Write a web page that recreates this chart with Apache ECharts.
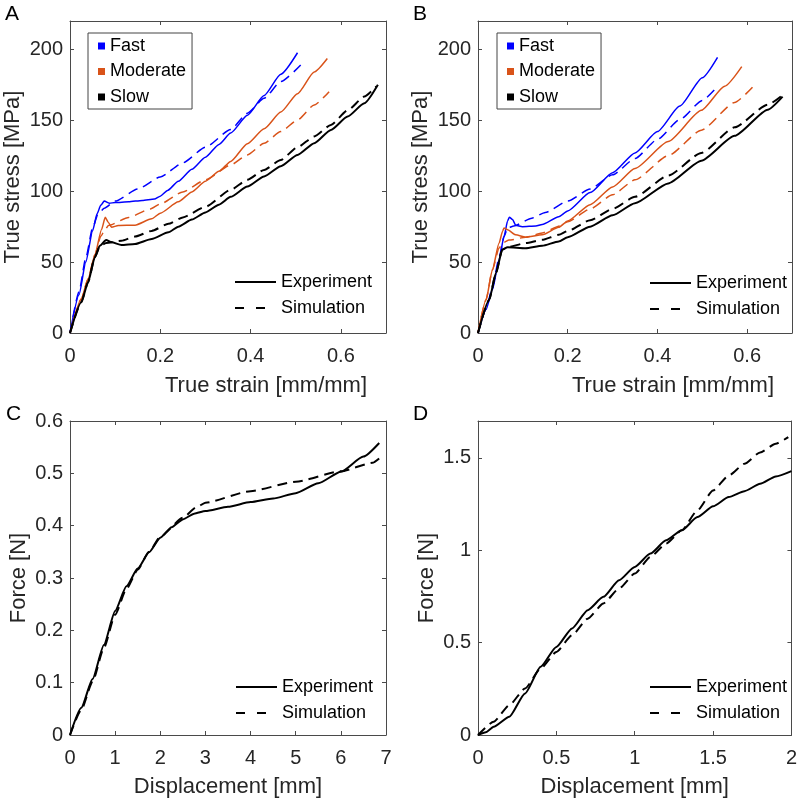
<!DOCTYPE html>
<html>
<head>
<meta charset="utf-8">
<script src="https://cdn.jsdelivr.net/npm/echarts@6/dist/echarts.min.js"></script>
<style>
html,body{margin:0;padding:0;background:#fff;}
#chart{width:800px;height:800px;}
</style>
</head>
<body>
<div id="chart"></div>
<script>
// ---------- Data ----------
// Panel A : true strain [mm/mm] vs true stress [MPa]
const aFastExp = [[0,0],[0.02,27],[0.035,50],[0.05,72],[0.06,84],[0.068,90],[0.076,93],[0.087,91.5],[0.1,92],[0.13,92.5],[0.16,93.5],[0.187,94.5],[0.2,96.5],[0.216,100.5],[0.24,107],[0.27,115.5],[0.3,124],[0.33,133],[0.356,141],[0.393,153.5],[0.43,167.5],[0.467,182.5],[0.504,197.6]];
const aFastSim = [[0,0],[0.02,29],[0.035,53],[0.05,74],[0.062,84],[0.076,88],[0.1,93],[0.15,101.5],[0.2,110],[0.25,120],[0.3,131],[0.356,143.5],[0.393,155],[0.43,165.5],[0.467,177.3],[0.511,189]];
const aModExp = [[0,0],[0.025,24],[0.04,38],[0.055,55],[0.07,73],[0.078,81.6],[0.085,78],[0.092,74.6],[0.107,75.8],[0.144,76],[0.181,80.5],[0.2,84.5],[0.24,92.5],[0.27,99.5],[0.3,107],[0.33,114],[0.356,121],[0.393,133.5],[0.43,144],[0.467,155.8],[0.504,168.7],[0.541,184],[0.57,193.5]];
const aModSim = [[0,0],[0.025,24],[0.04,38],[0.055,55],[0.068,68],[0.076,72],[0.085,75.8],[0.13,81.5],[0.178,87.5],[0.2,91],[0.25,99.5],[0.3,108],[0.356,118.5],[0.393,125.6],[0.43,133.8],[0.467,142],[0.504,150.2],[0.541,160.8],[0.574,170.2]];
const aSlowExp = [[0,0],[0.025,21.6],[0.04,35.8],[0.055,53.4],[0.066,61.6],[0.08,65.6],[0.092,64],[0.114,62],[0.144,62.8],[0.181,66.3],[0.218,71],[0.24,75],[0.27,80],[0.3,85],[0.33,90.5],[0.356,96],[0.393,103.3],[0.43,110.4],[0.467,117.6],[0.504,125.6],[0.541,133.8],[0.578,143.2],[0.615,152.7],[0.652,162],[0.682,175]];
const aSlowSim = [[0,0],[0.025,21.6],[0.04,35.8],[0.055,53.4],[0.066,61],[0.08,63.5],[0.114,65],[0.144,68],[0.181,72],[0.218,77],[0.25,81.5],[0.3,89],[0.356,101],[0.393,108],[0.43,115],[0.467,122],[0.504,131],[0.541,138.6],[0.578,146.7],[0.615,157],[0.652,166.7],[0.678,173.8]];

// Panel B : true strain [mm/mm] vs true stress [MPa]
const bFastExp = [[0,0],[0.018,16.5],[0.032,30.5],[0.047,51.6],[0.058,68],[0.066,79],[0.07,81.7],[0.077,80],[0.084,76],[0.099,75],[0.129,75.5],[0.143,76.5],[0.18,82],[0.2,86],[0.25,99],[0.3,113],[0.35,127],[0.4,142],[0.45,160],[0.5,180],[0.534,194.4]];
const bFastSim = [[0,0],[0.018,17],[0.032,32],[0.047,53],[0.058,68],[0.066,74],[0.08,75.5],[0.12,81],[0.15,85],[0.2,93],[0.25,101.5],[0.3,111.5],[0.35,123],[0.4,136.5],[0.45,150.5],[0.5,164],[0.528,171.8]];
const bModExp = [[0,0],[0.018,23.5],[0.032,44.5],[0.047,63.4],[0.055,72],[0.058,74],[0.066,72.8],[0.084,69.2],[0.106,67.6],[0.143,69.2],[0.18,74.5],[0.2,79],[0.25,90.5],[0.3,103],[0.35,116],[0.424,135],[0.498,157],[0.55,174],[0.588,187.8]];
const bModSim = [[0,0],[0.018,23.5],[0.032,44.5],[0.047,60],[0.058,64],[0.069,65.5],[0.106,67.5],[0.143,70.5],[0.182,75.5],[0.2,78.5],[0.25,87.5],[0.3,97.5],[0.35,108],[0.424,125],[0.498,143],[0.572,162.5],[0.613,173.7]];
const bSlowExp = [[0,0],[0.025,23.5],[0.04,42.3],[0.054,58.7],[0.066,60.5],[0.106,59.8],[0.143,61.5],[0.18,64.5],[0.2,67.5],[0.25,75],[0.3,83],[0.35,91.5],[0.424,105.5],[0.498,121.5],[0.572,139],[0.646,157.5],[0.679,166.7]];
const bSlowSim = [[0,0],[0.025,23.5],[0.04,42.3],[0.054,58.7],[0.066,60.5],[0.106,63.4],[0.143,65.7],[0.18,69.2],[0.2,72],[0.25,79.5],[0.3,87.5],[0.35,96],[0.424,111],[0.498,127],[0.572,145],[0.646,161],[0.684,169]];

// Panel C : displacement [mm] vs force [N]
const cExp = [[0,0],[0.25,0.052],[0.5,0.107],[0.75,0.172],[1.0,0.237],[1.25,0.284],[1.5,0.318],[1.75,0.349],[2.0,0.377],[2.25,0.397],[2.5,0.412],[2.75,0.423],[3.0,0.428],[3.5,0.436],[4.0,0.445],[4.5,0.452],[5.0,0.462],[5.5,0.481],[6.0,0.503],[6.5,0.532],[6.85,0.558]];
const cSim = [[0,0],[0.25,0.048],[0.5,0.102],[0.75,0.166],[1.0,0.23],[1.25,0.279],[1.5,0.316],[1.75,0.35],[2.0,0.379],[2.5,0.415],[2.8,0.435],[3.0,0.444],[4.0,0.466],[5.0,0.484],[6.0,0.504],[6.7,0.52],[6.95,0.536]];

// Panel D : displacement [mm] vs force [N]
const dExp = [[0,0],[0.05,0.015],[0.1,0.045],[0.2,0.099],[0.3,0.225],[0.4,0.37],[0.5,0.477],[0.6,0.577],[0.7,0.676],[0.8,0.748],[0.9,0.838],[1.0,0.91],[1.1,0.982],[1.2,1.054],[1.3,1.108],[1.4,1.18],[1.5,1.238],[1.6,1.288],[1.7,1.32],[1.8,1.36],[1.9,1.4],[2.0,1.429]];
const dSim = [[0,0],[0.1,0.072],[0.2,0.162],[0.3,0.252],[0.4,0.36],[0.5,0.45],[0.6,0.54],[0.7,0.63],[0.8,0.712],[0.9,0.793],[1.0,0.874],[1.1,0.964],[1.2,1.036],[1.3,1.108],[1.4,1.216],[1.5,1.324],[1.6,1.405],[1.7,1.468],[1.8,1.53],[1.9,1.577],[1.98,1.613]];

const rateNames = ['Fast', 'Moderate', 'Slow'];
const typeNames = ['Experiment', 'Simulation'];
const panelLetters = ['A', 'B', 'C', 'D'];

// ---------- Styling / layout ----------
const FONT = "'Liberation Sans', Arial, Helvetica, sans-serif";
const AX = '#262626';
const FRAME = '#4a4a4a';
const COLORS = { Fast: '#0000ff', Moderate: '#d95319', Slow: '#000000' };
const DASH = [10, 6];

const grids = [
  { left: 70,  top: 21,  width: 316, height: 312 },
  { left: 478, top: 21,  width: 314, height: 312 },
  { left: 70,  top: 421, width: 316, height: 314 },
  { left: 478, top: 421, width: 314, height: 314 }
];

const axisCfg = [
  { x: [0, 0.7, 0.2], y: [0, 220, 50], xName: 'True strain [mm/mm]', yName: 'True stress [MPa]', xGap: 42, yGap: 46, xPad: [0, 0, 0, 76], xMaxLbl: false, yMaxLbl: false },
  { x: [0, 0.7, 0.2], y: [0, 220, 50], xName: 'True strain [mm/mm]', yName: 'True stress [MPa]', xGap: 42, yGap: 46, xPad: [0, 0, 0, 76], xMaxLbl: false, yMaxLbl: false },
  { x: [0, 7, 1], y: [0, 0.6, 0.1], xName: 'Displacement [mm]', yName: 'Force [N]', xGap: 41, yGap: 40, xPad: [0, 0, 0, 0], xMaxLbl: true, yMaxLbl: true },
  { x: [0, 2, 0.5], y: [0, 1.7, 0.5], xName: 'Displacement [mm]', yName: 'Force [N]', xGap: 41, yGap: 40, xPad: [0, 0, 0, 0], xMaxLbl: true, yMaxLbl: false }
];

const xAxes = [], yAxes = [];
axisCfg.forEach((c, i) => {
  const common = {
    type: 'value', gridIndex: i,
    axisLine: { show: true, onZero: false, lineStyle: { color: FRAME, width: 1 } },
    axisTick: { show: true, inside: true, length: 4, lineStyle: { color: FRAME } },
    splitLine: { show: false }
  };
  xAxes.push(Object.assign({}, common, {
    position: 'bottom', min: c.x[0], max: c.x[1], interval: c.x[2],
    name: c.xName, nameLocation: 'middle', nameGap: c.xGap,
    nameTextStyle: { fontFamily: FONT, fontSize: 22, color: AX, padding: c.xPad },
    axisLabel: { fontFamily: FONT, fontSize: 20, color: AX, margin: 13, showMaxLabel: c.xMaxLbl }
  }));
  xAxes.push(Object.assign({}, common, {
    position: 'top', min: c.x[0], max: c.x[1], interval: c.x[2],
    axisLabel: { show: false }
  }));
  yAxes.push(Object.assign({}, common, {
    position: 'left', min: c.y[0], max: c.y[1], interval: c.y[2],
    name: c.yName, nameLocation: 'middle', nameGap: c.yGap,
    nameTextStyle: { fontFamily: FONT, fontSize: 22, color: AX },
    axisLabel: { fontFamily: FONT, fontSize: 20, color: AX, margin: 7, showMaxLabel: c.yMaxLbl }
  }));
  yAxes.push(Object.assign({}, common, {
    position: 'right', min: c.y[0], max: c.y[1], interval: c.y[2],
    axisLabel: { show: false }
  }));
});

function line(name, data, panel, color, dashed, width) {
  return {
    type: 'line', name: name, data: data,
    xAxisIndex: panel * 2, yAxisIndex: panel * 2,
    symbol: 'none', showSymbol: false, smooth: 0.2, smoothMonotone: 'x',
    itemStyle: { color: color },
    lineStyle: { color: color, width: width, type: dashed ? DASH : 'solid' },
    emphasis: { disabled: true }, silent: true, animation: false
  };
}

const series = [
  // C and D first so the Experiment/Simulation legend picks black styles
  line('Experiment', cExp, 2, '#000', false, 2),
  line('Simulation', cSim, 2, '#000', true, 2),
  line('Experiment', dExp, 3, '#000', false, 2),
  line('Simulation', dSim, 3, '#000', true, 2),
  line('Fast', aFastExp, 0, COLORS.Fast, false, 1.5),
  line('Fast', aFastSim, 0, COLORS.Fast, true, 1.5),
  line('Moderate', aModExp, 0, COLORS.Moderate, false, 1.5),
  line('Moderate', aModSim, 0, COLORS.Moderate, true, 1.5),
  line('Slow', aSlowExp, 0, COLORS.Slow, false, 2),
  line('Slow', aSlowSim, 0, COLORS.Slow, true, 2),
  line('Fast', bFastExp, 1, COLORS.Fast, false, 1.5),
  line('Fast', bFastSim, 1, COLORS.Fast, true, 1.5),
  line('Moderate', bModExp, 1, COLORS.Moderate, false, 1.5),
  line('Moderate', bModSim, 1, COLORS.Moderate, true, 1.5),
  line('Slow', bSlowExp, 1, COLORS.Slow, false, 2),
  line('Slow', bSlowSim, 1, COLORS.Slow, true, 2)
];

function rateLegend(left, top) {
  return {
    data: rateNames, orient: 'vertical', left: left, top: top,
    icon: 'rect', itemWidth: 7, itemHeight: 7, itemGap: 7.5,
    padding: [4, 6, 3, 10], borderColor: '#444', borderWidth: 1,
    textStyle: { fontFamily: FONT, fontSize: 18, color: '#000' },
    selectedMode: false
  };
}
const HIDE_SYMBOL = { color: 'rgba(0,0,0,0)', borderColor: 'rgba(0,0,0,0)', borderWidth: 0, opacity: 0 };
function typeLegend(left, top) {
  return {
    data: [
      { name: typeNames[0], lineStyle: { type: 'solid', width: 2 }, itemStyle: HIDE_SYMBOL },
      { name: typeNames[1], lineStyle: { type: [9, 12], width: 2 }, itemStyle: HIDE_SYMBOL }
    ],
    orient: 'vertical', left: left, top: top,
    itemWidth: 41, itemHeight: 10, itemGap: 8, padding: 0,
    itemStyle: HIDE_SYMBOL,
    textStyle: { fontFamily: FONT, fontSize: 18, color: '#000' },
    selectedMode: false
  };
}

const letterPos = [[5, 4], [413, 4], [6, 404], [413, 404]];

const option = {
  backgroundColor: '#fff',
  animation: false,
  grid: grids.map(g => Object.assign({ containLabel: false }, g)),
  xAxis: xAxes,
  yAxis: yAxes,
  legend: [
    rateLegend(88, 33), typeLegend(234, 273),
    rateLegend(497, 33), typeLegend(649, 274),
    typeLegend(235, 678), typeLegend(649, 678)
  ],
  graphic: panelLetters.map((t, i) => ({
    type: 'text', left: letterPos[i][0], top: letterPos[i][1],
    style: { text: t, fontFamily: FONT, fontSize: 21, fill: '#000' }
  })),
  series: series
};

const chart = echarts.init(document.getElementById('chart'), null, { renderer: 'canvas' });
chart.setOption(option);
</script>
</body>
</html>
